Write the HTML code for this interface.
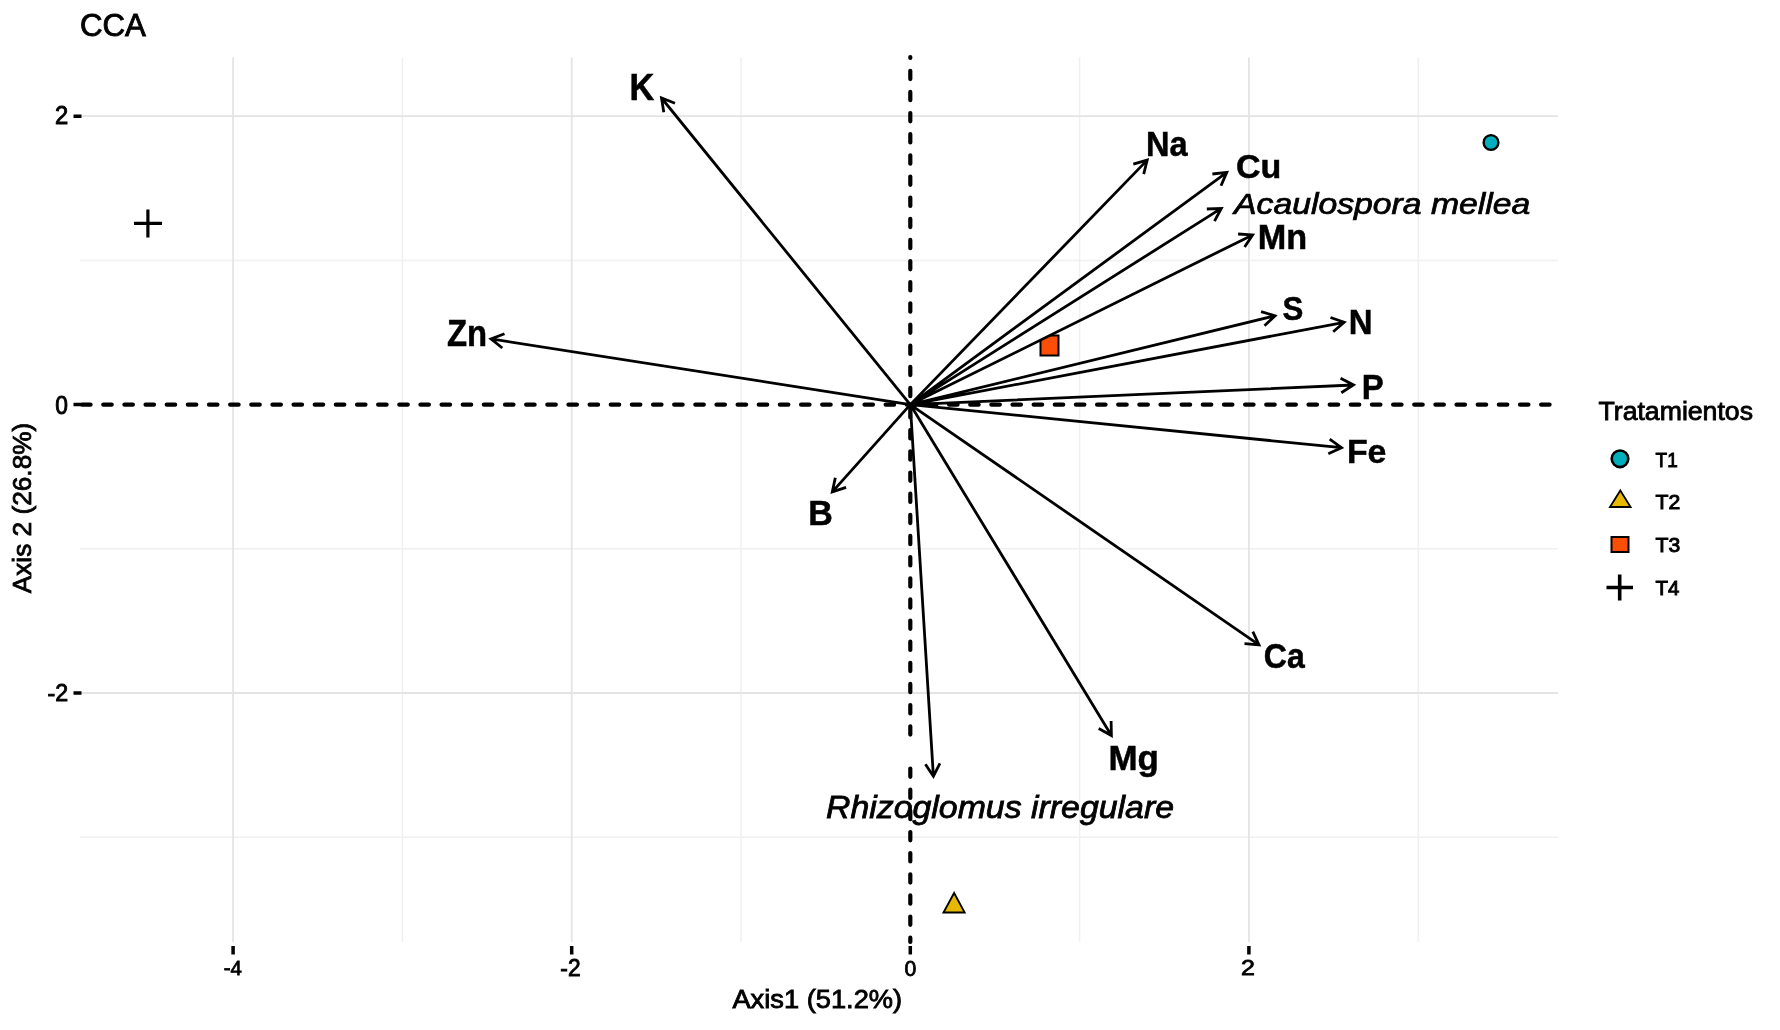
<!DOCTYPE html><html><head><meta charset="utf-8"><style>html,body{margin:0;padding:0;background:#fff;width:1780px;height:1030px;overflow:hidden}svg{display:block;will-change:transform}</style></head><body>
<svg width="1780" height="1030" viewBox="0 0 1780 1030">
<rect width="1780" height="1030" fill="#fff"/>
<path d="M402.4 57.5V942.0M741.0 57.5V942.0M1079.6 57.5V942.0M1418.2 57.5V942.0M80.0 260.4H1558.0M80.0 548.8H1558.0M80.0 837.2H1558.0" stroke="#f0f0f0" stroke-width="1.5" fill="none"/>
<path d="M233.1 57.5V942.0M571.7 57.5V942.0M1248.9 57.5V942.0M80.0 116.2H1558.0M80.0 693.0H1558.0" stroke="#e4e4e4" stroke-width="1.8" fill="none"/>
<path d="M233.1 946V954.5M571.7 946V954.5M910.3 946V954.5M1248.9 946V954.5M73.5 116.2H81.5M73.5 404.6H81.5M73.5 693.0H81.5" stroke="#000" stroke-width="3.5" fill="none"/>
<path d="M82.2 404.6H1558.0" stroke="#000" stroke-width="4.4" stroke-linecap="round" stroke-dasharray="8.3 12.845" fill="none"/>
<path d="M910.3 942.0V57" stroke="#000" stroke-width="4.2" stroke-linecap="round" stroke-dasharray="8.3 12.845" stroke-dashoffset="4.0" fill="none"/>
<rect x="905" y="742" width="11" height="17" fill="#fff"/>
<circle cx="1491" cy="142.5" r="7.4" fill="#00AFBB" stroke="#000" stroke-width="2.4"/>
<rect x="1040.5" y="335.5" width="18" height="20" fill="#FC4E07" stroke="#000" stroke-width="2"/>
<path d="M943.5 912.5L954.1 893L964.7 912.5Z" fill="#E7B800" stroke="#000" stroke-width="1.8" stroke-linejoin="miter"/>
<path d="M134 223.4H162M147.9 209.5V237.5" stroke="#000" stroke-width="3.2" fill="none"/>
<path d="M1038 332.5L1061 332.5L1061 329L1038 341Z" fill="#fff"/>
<path d="M910.3 404.6L661.5 98M663.8 112.3L661.5 98L675.0 103.2M910.3 404.6L1147.2 160.1M1133.3 164.1L1147.2 160.1L1143.7 174.2M910.3 404.6L1226.8 172.4M1212.4 174.0L1226.8 172.4L1221.0 185.7M910.3 404.6L1221.3 208.4M1206.8 209.0L1221.3 208.4L1214.5 221.2M910.3 404.6L1252.6 234.9M1238.1 234.0L1252.6 234.9L1244.6 247.0M910.3 404.6L1275 315.8M1261.1 311.7L1275 315.8L1264.5 325.8M910.3 404.6L1344.2 322.3M1330.5 317.5L1344.2 322.3L1333.2 331.8M910.3 404.6L1353.5 385M1340.6 378.3L1353.5 385L1341.3 392.8M910.3 404.6L1341.5 447.7M1329.7 439.2L1341.5 447.7L1328.3 453.7M910.3 404.6L491 338.9M502.3 348.0L491 338.9L504.5 333.7M910.3 404.6L832.3 491.9M846.1 487.4L832.3 491.9L835.3 477.7M910.3 404.6L1259 644.8M1252.8 631.7L1259 644.8L1244.5 643.6M910.3 404.6L1111.4 735.5M1111.1 721.0L1111.4 735.5L1098.7 728.5M910.3 404.6L933.4 776.3M939.9 763.3L933.4 776.3L925.4 764.2" stroke="#000" stroke-width="2.8" fill="none" stroke-linejoin="miter" stroke-linecap="butt"/>
<circle cx="1620" cy="458.8" r="8.3" fill="#00AFBB" stroke="#000" stroke-width="2.6"/>
<path d="M1610 507L1620.3 490.5L1630.6 507Z" fill="#E7B800" stroke="#000" stroke-width="1.8"/>
<rect x="1611.5" y="537" width="17" height="15" fill="#FC4E07" stroke="#000" stroke-width="2"/>
<path d="M1606.5 587.5H1633M1619.7 574.6V600.4" stroke="#000" stroke-width="3.6" fill="none"/>
<g transform="translate(79.92,35.70) scale(0.9761,0.9958)"><text x="0" y="0" font-family="Liberation Sans" font-weight="normal" font-style="normal" font-size="32" fill="#000" stroke="#000" stroke-width="0.9">CCA</text></g>
<g transform="translate(629.58,100.40) scale(1.0091,1.1043)"><text x="0" y="0" font-family="Liberation Sans" font-weight="bold" font-style="normal" font-size="34" fill="#000" stroke="#000" stroke-width="0.5">K</text></g>
<g transform="translate(1145.99,156.00) scale(0.9548,1.0348)"><text x="0" y="0" font-family="Liberation Sans" font-weight="bold" font-style="normal" font-size="34" fill="#000" stroke="#000" stroke-width="0.5">Na</text></g>
<g transform="translate(1236.00,177.80) scale(1.0000,1.0043)"><text x="0" y="0" font-family="Liberation Sans" font-weight="bold" font-style="normal" font-size="34" fill="#000" stroke="#000" stroke-width="0.5">Cu</text></g>
<g transform="translate(1234.01,214.27) scale(1.0550,0.9281)"><text x="0" y="0" font-family="Liberation Sans" font-weight="normal" font-style="italic" font-size="32" fill="#000" stroke="#000" stroke-width="0.8">Acaulospora mellea</text></g>
<g transform="translate(1257.69,248.60) scale(1.0067,1.0087)"><text x="0" y="0" font-family="Liberation Sans" font-weight="bold" font-style="normal" font-size="34" fill="#000" stroke="#000" stroke-width="0.5">Mn</text></g>
<g transform="translate(1282.48,320.40) scale(0.9190,0.9609)"><text x="0" y="0" font-family="Liberation Sans" font-weight="bold" font-style="normal" font-size="34" fill="#000" stroke="#000" stroke-width="0.5">S</text></g>
<g transform="translate(1348.77,334.30) scale(0.9667,1.0435)"><text x="0" y="0" font-family="Liberation Sans" font-weight="bold" font-style="normal" font-size="34" fill="#000" stroke="#000" stroke-width="0.5">N</text></g>
<g transform="translate(1361.66,398.90) scale(0.9700,1.0043)"><text x="0" y="0" font-family="Liberation Sans" font-weight="bold" font-style="normal" font-size="34" fill="#000" stroke="#000" stroke-width="0.5">P</text></g>
<g transform="translate(1346.91,463.40) scale(0.9973,1.0000)"><text x="0" y="0" font-family="Liberation Sans" font-weight="bold" font-style="normal" font-size="34" fill="#000" stroke="#000" stroke-width="0.5">Fe</text></g>
<g transform="translate(446.93,345.80) scale(0.9667,1.0957)"><text x="0" y="0" font-family="Liberation Sans" font-weight="bold" font-style="normal" font-size="34" fill="#000" stroke="#000" stroke-width="0.5">Zn</text></g>
<g transform="translate(808.20,524.90) scale(1.0000,1.0304)"><text x="0" y="0" font-family="Liberation Sans" font-weight="bold" font-style="normal" font-size="34" fill="#000" stroke="#000" stroke-width="0.5">B</text></g>
<g transform="translate(1263.86,667.90) scale(0.9395,1.0435)"><text x="0" y="0" font-family="Liberation Sans" font-weight="bold" font-style="normal" font-size="34" fill="#000" stroke="#000" stroke-width="0.5">Ca</text></g>
<g transform="translate(1108.45,769.66) scale(1.0267,1.0200)"><text x="0" y="0" font-family="Liberation Sans" font-weight="bold" font-style="normal" font-size="34" fill="#000" stroke="#000" stroke-width="0.5">Mg</text></g>
<g transform="translate(825.94,817.65) scale(1.0581,0.9688)"><text x="0" y="0" font-family="Liberation Sans" font-weight="normal" font-style="italic" font-size="32" fill="#000" stroke="#000" stroke-width="0.8">Rhizoglomus irregulare</text></g>
<g transform="translate(1598.50,420.08) scale(0.9519,0.9227)"><text x="0" y="0" font-family="Liberation Sans" font-weight="normal" font-style="normal" font-size="28" fill="#000" stroke="#000" stroke-width="0.9">Tratamientos</text></g>
<g transform="translate(1655.60,466.53) scale(0.8231,0.8737)"><text x="0" y="0" font-family="Liberation Sans" font-weight="normal" font-style="normal" font-size="23" fill="#000" stroke="#000" stroke-width="1.1">T1</text></g>
<g transform="translate(1655.60,509.40) scale(0.9192,0.9000)"><text x="0" y="0" font-family="Liberation Sans" font-weight="normal" font-style="normal" font-size="23" fill="#000" stroke="#000" stroke-width="1.1">T2</text></g>
<g transform="translate(1655.60,551.64) scale(0.9192,0.8632)"><text x="0" y="0" font-family="Liberation Sans" font-weight="normal" font-style="normal" font-size="23" fill="#000" stroke="#000" stroke-width="1.1">T3</text></g>
<g transform="translate(1655.60,594.54) scale(0.8852,0.8632)"><text x="0" y="0" font-family="Liberation Sans" font-weight="normal" font-style="normal" font-size="23" fill="#000" stroke="#000" stroke-width="1.1">T4</text></g>
<g transform="translate(732.40,1008.00) scale(0.9746,0.9429)"><text x="0" y="0" font-family="Liberation Sans" font-weight="normal" font-style="normal" font-size="28" fill="#000" stroke="#000" stroke-width="0.9">Axis1 (51.2%)</text></g>
<g transform="translate(30.60,593.30) scale(0.9000,0.9376)"><text transform="rotate(-90)" x="0" y="0" font-family="Liberation Sans" font-weight="normal" font-style="normal" font-size="28" fill="#000" stroke="#000" stroke-width="0.9">Axis 2 (26.8%)</text></g>
<g transform="translate(55.01,124.35) scale(0.9917,1.0500)"><text x="0" y="0" font-family="Liberation Sans" font-weight="normal" font-style="normal" font-size="24" fill="#000" stroke="#000" stroke-width="0.9">2</text></g>
<g transform="translate(55.25,414.00) scale(0.9500,1.0588)"><text x="0" y="0" font-family="Liberation Sans" font-weight="normal" font-style="normal" font-size="24" fill="#000" stroke="#000" stroke-width="0.9">0</text></g>
<g transform="translate(47.43,700.72) scale(0.9700,0.9833)"><text x="0" y="0" font-family="Liberation Sans" font-weight="normal" font-style="normal" font-size="24" fill="#000" stroke="#000" stroke-width="0.9">-2</text></g>
<g transform="translate(223.65,974.76) scale(0.8500,0.8421)"><text x="0" y="0" font-family="Liberation Sans" font-weight="normal" font-style="normal" font-size="24" fill="#000" stroke="#000" stroke-width="0.9">-4</text></g>
<g transform="translate(560.35,975.60) scale(0.9450,1.0000)"><text x="0" y="0" font-family="Liberation Sans" font-weight="normal" font-style="normal" font-size="24" fill="#000" stroke="#000" stroke-width="0.9">-2</text></g>
<g transform="translate(904.62,975.90) scale(0.8833,0.9353)"><text x="0" y="0" font-family="Liberation Sans" font-weight="normal" font-style="normal" font-size="24" fill="#000" stroke="#000" stroke-width="0.9">0</text></g>
<g transform="translate(1240.96,975.08) scale(1.0417,0.9167)"><text x="0" y="0" font-family="Liberation Sans" font-weight="normal" font-style="normal" font-size="24" fill="#000" stroke="#000" stroke-width="0.9">2</text></g>
</svg></body></html>
